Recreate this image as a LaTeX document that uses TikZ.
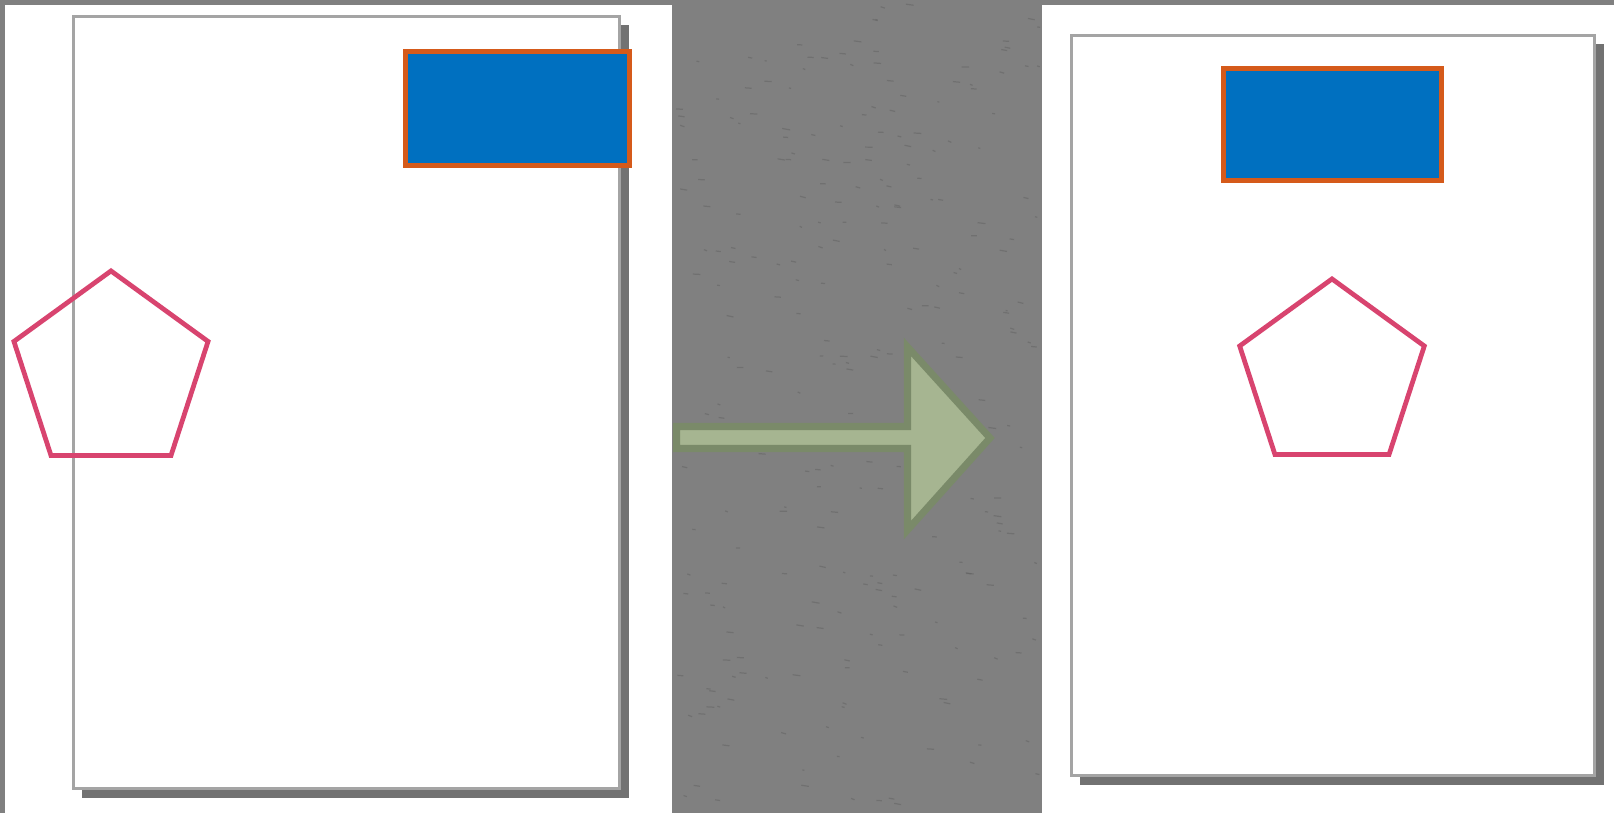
\documentclass[tikz,border=0pt]{standalone}
\usetikzlibrary{shapes.geometric,shadows,calc}
\definecolor{wallGray}{HTML}{808080}
\definecolor{speckGray}{HTML}{5E5E5E}
\definecolor{pageLine}{HTML}{A4A4A4}
\definecolor{shadowGray}{HTML}{727272}
\definecolor{boxBlue}{HTML}{0070C0}
\definecolor{boxOrange}{HTML}{D55A1A}
\definecolor{penPink}{HTML}{D8446F}
\definecolor{arrowFill}{HTML}{A6B591}
\definecolor{arrowLine}{HTML}{7A8A69}
\tikzset{
    panel/.style={fill=white,draw=none},
    page/.style={draw=pageLine,fill=white,line width=0.8pt,inner sep=0pt,
        anchor=north west,
        drop shadow={shadow xshift=0.09cm,shadow yshift=-0.09cm,
            fill=shadowGray,opacity=1}},
    bluebox/.style={draw=boxOrange,fill=boxBlue,line width=1.4pt,inner sep=0pt},
    pentagon/.style={regular polygon,regular polygon sides=5,draw=penPink,
        line width=1.35pt,inner sep=0pt},
    blockarrow/.style={draw=arrowLine,fill=arrowFill,line width=2pt,line join=miter}
}
\begin{document}
\begin{tikzpicture}[x=0.01cm,y=-0.01cm]
    \useasboundingbox (0,0) rectangle (1614,813);
    % backdrop
    \fill[wallGray] (0,0) rectangle (1614,813);
    \pgfmathsetseed{7}
    \foreach \i in {1,...,260}{
        \pgfmathsetmacro{\sx}{676+362*rnd}
        \pgfmathsetmacro{\sy}{4+805*rnd}
        \pgfmathsetmacro{\sl}{2+6*rnd}
        \draw[speckGray,opacity=0.45,line width=0.35pt] (\sx,\sy) -- ++(\sl,1.5*rnd);
    }
    \fill[panel] (5,5) rectangle (672,813);
    \fill[panel] (1042,5) rectangle (1614,813);

    % before
    \node[page,minimum width=5.46cm,minimum height=7.72cm] (pageA) at (72,15) {};
    \node[bluebox,minimum width=2.24cm,minimum height=1.14cm] (boxA) at (517.5,108.5) {};
    \node[pentagon,minimum size=2.04cm] (penA) at (111,373) {};

    % after
    \node[page,minimum width=5.23cm,minimum height=7.40cm] (pageB) at (1070,34) {};
    \node[bluebox,minimum width=2.17cm,minimum height=1.12cm] (boxB) at (1332.5,124.5) {};
    \node[pentagon,minimum size=1.94cm] (penB) at (1332,376) {};

    % arrow
    \coordinate (tail) at (676.5,437.5);
    \coordinate (tip) at (990,438);
    \draw[blockarrow] ($(tail)+(0,-11)$) -- (907.5,426.5) -- (907.5,347) -- (tip)
        -- (907.5,530) -- (907.5,448.5) -- ($(tail)+(0,11)$) -- cycle;
\end{tikzpicture}
\end{document}
